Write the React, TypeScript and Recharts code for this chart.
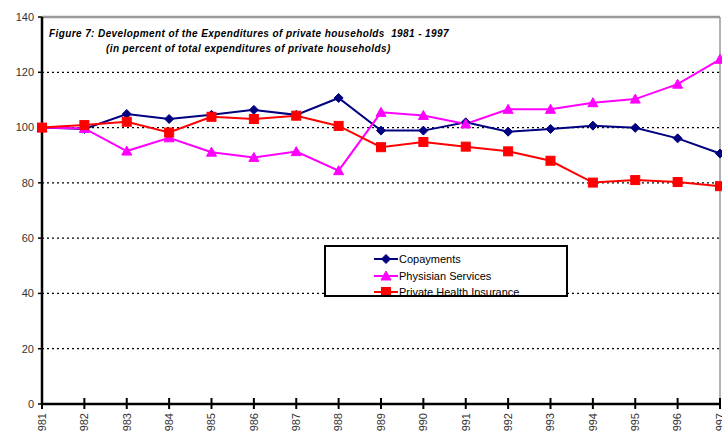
import React from 'react';
import { LineChart, Line, XAxis, YAxis, CartesianGrid, ReferenceLine } from 'recharts';

const years = ['1981','1982','1983','1984','1985','1986','1987','1988','1989','1990','1991','1992','1993','1994','1995','1996','1997'];
const copayments = [100, 99.5, 104.9, 103.1, 104.6, 106.4, 104.6, 110.7, 98.9, 98.9, 101.9, 98.5, 99.5, 100.7, 99.9, 96.1, 90.6];
const physician = [100, 99.7, 91.5, 96.3, 91.1, 89.2, 91.3, 84.4, 105.5, 104.4, 101.3, 106.6, 106.6, 109.0, 110.3, 115.7, 124.7];
const privateInsurance = [100, 100.9, 102.1, 98.2, 103.9, 103.1, 104.3, 100.6, 92.9, 94.8, 93.1, 91.4, 88.0, 80.1, 81.0, 80.3, 78.8];
const yTicks = [0, 20, 40, 60, 80, 100, 120, 140];
const gridValues = [20, 40, 60, 80, 100, 120];
const titleLine1 = 'Figure 7: Development of the Expenditures of private households  1981 - 1997';
const titleLine2 = '(in percent of total expenditures of private households)';
const seriesNames = ['Copayments', 'Physisian Services', 'Private Health Insurance'];

const data = years.map((y, i) => ({
  year: y,
  copayments: copayments[i],
  physician: physician[i],
  privateInsurance: privateInsurance[i],
}));

const FONT = 'Arial, "Liberation Sans", sans-serif';

const Diamond = (props: any) => {
  const { cx, cy, index } = props;
  if (cx == null || cy == null) return null;
  const s = 4.5;
  return <path key={`d${index}`} d={`M${cx},${cy - s}L${cx + s},${cy}L${cx},${cy + s}L${cx - s},${cy}Z`} fill="#000080" stroke="#000080" />;
};
const Triangle = (props: any) => {
  const { cx, cy, index } = props;
  if (cx == null || cy == null) return null;
  const s = 5;
  return <path key={`t${index}`} d={`M${cx},${cy - s}L${cx + s},${cy + s * 0.8}L${cx - s},${cy + s * 0.8}Z`} fill="#FF00FF" stroke="#FF00FF" />;
};
const Square = (props: any) => {
  const { cx, cy, index } = props;
  if (cx == null || cy == null) return null;
  const s = 4.5;
  return <rect key={`s${index}`} x={cx - s} y={cy - s} width={s * 2} height={s * 2} fill="#FF0000" stroke="#FF0000" />;
};

const XTick = (props: any) => {
  const { x, y, payload } = props;
  return (
    <g>
      <line x1={x} x2={x} y1={y - 6} y2={y + 5} stroke="#000" strokeWidth={2} />
      <text
        transform={`translate(${x},${y + 9}) rotate(-90)`}
        textAnchor="end"
        dy="0.35em"
        fontSize={11}
        fontFamily={FONT}
        fill="#333"
      >
        {payload.value}
      </text>
    </g>
  );
};

const markerFor = (i: number, cx: number, cy: number) => {
  if (i === 0) return <Diamond cx={cx} cy={cy} index={0} />;
  if (i === 1) return <Triangle cx={cx} cy={cy} index={0} />;
  return <Square cx={cx} cy={cy} index={0} />;
};
const colors = ['#000080', '#FF00FF', '#FF0000'];

const LegendBox = () => (
  <div
    style={{
      position: 'absolute',
      left: 324,
      top: 245,
      width: 240,
      height: 48,
      border: '2px solid #000',
      background: '#fff',
      overflow: 'hidden',
      fontFamily: FONT,
      fontSize: 11,
      color: '#000',
      boxSizing: 'content-box',
    }}
  >
    {seriesNames.map((n, i) => (
      <div key={n} style={{ position: 'absolute', left: 0, top: 5 + i * 16.5, height: 14, width: 240 }}>
        <svg width={26} height={14} style={{ position: 'absolute', left: 47, top: 0 }}>
          <line x1={1} x2={25} y1={7} y2={7} stroke={colors[i]} strokeWidth={2} />
          {markerFor(i, 13, 7)}
        </svg>
        <span style={{ position: 'absolute', left: 73, top: 0, lineHeight: '14px', whiteSpace: 'nowrap' }}>{n}</span>
      </div>
    ))}
  </div>
);

const titleStyle: React.CSSProperties = {
  position: 'absolute',
  fontFamily: FONT,
  fontSize: 10,
  fontWeight: 'bold',
  fontStyle: 'italic',
  whiteSpace: 'pre',
  lineHeight: '14px',
  letterSpacing: '0.4px',
  color: '#000',
};

export default function App() {
  return (
    <div style={{ position: 'absolute', left: 0, top: 0, width: 722, height: 440, background: '#fff' }}>
      <LineChart
        width={722}
        height={440}
        data={data}
        margin={{ top: 17, right: 2, left: 0, bottom: 0 }}
      >
        <CartesianGrid horizontal vertical={false} horizontalValues={gridValues} stroke="#000" strokeDasharray="2 3" strokeWidth={1.2} />
        <ReferenceLine y={140} stroke="#999" strokeWidth={2.5} />
        <ReferenceLine x="1997" stroke="#999" strokeWidth={1.5} />
        <XAxis
          dataKey="year"
          interval={0}
          height={36}
          axisLine={{ stroke: '#000', strokeWidth: 2.5 }}
          tickLine={false}
          tickSize={0}
          tickMargin={0}
          tick={<XTick />}
          padding={{ left: 0, right: 0 }}
        />
        <YAxis
          type="number"
          domain={[0, 140]}
          ticks={yTicks}
          width={42}
          axisLine={{ stroke: '#000', strokeWidth: 2.5 }}
          tickLine={{ stroke: '#000', strokeWidth: 1.5 }}
          tickSize={4}
          tickMargin={4}
          tick={{ fontSize: 11, fontFamily: FONT, fill: '#333' }}
          interval={0}
        />
        <Line type="linear" dataKey="copayments" stroke="#000080" strokeWidth={2} dot={Diamond} isAnimationActive={false} />
        <Line type="linear" dataKey="physician" stroke="#FF00FF" strokeWidth={2} dot={Triangle} isAnimationActive={false} />
        <Line type="linear" dataKey="privateInsurance" stroke="#FF0000" strokeWidth={2} dot={Square} isAnimationActive={false} />
      </LineChart>
      <div style={{ ...titleStyle, left: 49, top: 27 }}>{titleLine1}</div>
      <div style={{ ...titleStyle, left: 106, top: 42 }}>{titleLine2}</div>
      <LegendBox />
    </div>
  );
}
